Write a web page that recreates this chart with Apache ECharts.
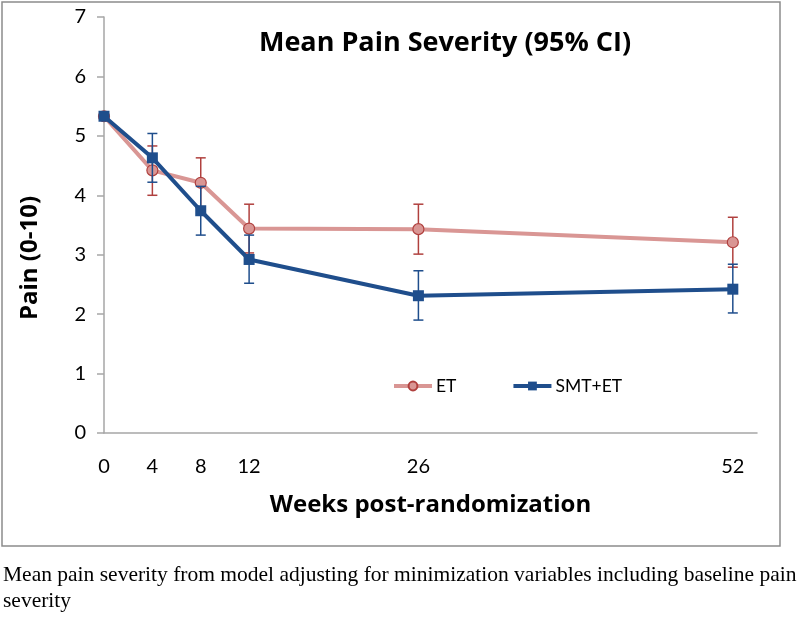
<!DOCTYPE html>
<html>
<head>
<meta charset="utf-8">
<script src="https://cdn.jsdelivr.net/npm/echarts@6/dist/echarts.min.js"></script>
<style>
html,body{margin:0;padding:0;background:#fff;}
#chart{width:800px;height:618px;}
</style>
</head>
<body>
<div id="chart"></div>
<script>
var weeks = [0, 4, 8, 12, 26, 52];
var xTickLabels = [0, 4, 8, 12, 26, 52];
var etMean = [5.33, 4.42, 4.21, 3.44, 3.43, 3.21];
var etLow = [null, 4.00, 3.79, 3.03, 3.01, 2.79];
var etHigh = [null, 4.83, 4.63, 3.85, 3.85, 3.63];
var smtMean = [5.33, 4.63, 3.74, 2.92, 2.31, 2.42];
var smtLow = [null, 4.22, 3.33, 2.52, 1.90, 2.02];
var smtHigh = [null, 5.04, 4.15, 3.33, 2.73, 2.84];

var FONT = 'Lato, "Open Sans", sans-serif';
var BOLD = '"Open Sans", Lato, sans-serif';
var ET_LINE = '#d99694';
var ET_DARK = '#b0403e';
var SMT = '#1f4e8c';

function pairs(xs, ys) { return xs.map(function (x, i) { return [x, ys[i]]; }); }
function errData(xs, lo, hi) {
  var out = [];
  xs.forEach(function (x, i) { if (lo[i] != null) out.push([x, lo[i], hi[i]]); });
  return out;
}
function errRender(color) {
  return function (params, api) {
    var x = api.value(0);
    var p1 = api.coord([x, api.value(1)]);
    var p2 = api.coord([x, api.value(2)]);
    var hw = 5;
    var st = { stroke: color, lineWidth: 1.5 };
    return {
      type: 'group',
      children: [
        { type: 'line', shape: { x1: p1[0], y1: p1[1], x2: p2[0], y2: p2[1] }, style: st },
        { type: 'line', shape: { x1: p1[0] - hw, y1: p1[1], x2: p1[0] + hw, y2: p1[1] }, style: st },
        { type: 'line', shape: { x1: p2[0] - hw, y1: p2[1], x2: p2[0] + hw, y2: p2[1] }, style: st }
      ]
    };
  };
}

var chart = echarts.init(document.getElementById('chart'), null, { renderer: 'canvas' });
chart.setOption({
  animation: false,
  backgroundColor: '#fff',
  title: {
    text: 'Mean Pain Severity (95% CI)',
    left: 440, top: 25, textAlign: 'center',
    textStyle: { fontFamily: BOLD, fontWeight: 'bold', fontSize: 27, color: '#000' }
  },
  legend: {
    left: 387, top: 372,
    itemWidth: 38, itemHeight: 11, itemGap: 55,
    data: ['ET', 'SMT+ET'],
    lineStyle: { width: 4 },
    textStyle: { fontFamily: FONT, fontSize: 17.5, color: '#000', padding: [0, 0, 0, -1] }
  },
  grid: { left: 104, top: 17, right: 43, bottom: 185 },
  xAxis: {
    type: 'value', min: 0, max: 54,
    name: 'Weeks post-randomization', nameLocation: 'middle', nameGap: 60,
    nameTextStyle: { fontFamily: BOLD, fontWeight: 'bold', fontSize: 24, color: '#000' },
    axisLine: { lineStyle: { color: '#a6a6a6', width: 1.5 } },
    axisTick: { show: false },
    splitLine: { show: false },
    axisLabel: { customValues: xTickLabels, fontFamily: FONT, fontSize: 20, color: '#000', margin: 24 }
  },
  yAxis: {
    type: 'value', min: 0, max: 7, interval: 1,
    axisLine: { show: true, lineStyle: { color: '#a6a6a6', width: 1.5 } },
    axisTick: { show: true, length: 7, lineStyle: { color: '#a6a6a6', width: 1.5 } },
    splitLine: { show: false },
    axisLabel: { fontFamily: FONT, fontSize: 20, color: '#000', margin: 18 }
  },
  series: [
    {
      name: 'ET-err', type: 'custom', renderItem: errRender(ET_DARK),
      data: errData(weeks, etLow, etHigh), encode: { x: 0, y: [1, 2] }, z: 2, silent: true
    },
    {
      name: 'ET', type: 'line', data: pairs(weeks, etMean),
      lineStyle: { color: ET_LINE, width: 4 },
      itemStyle: { color: ET_LINE, borderColor: ET_DARK, borderWidth: 1.2 },
      symbol: 'circle', symbolSize: 11, z: 3
    },
    {
      name: 'SMT-err', type: 'custom', renderItem: errRender(SMT),
      data: errData(weeks, smtLow, smtHigh), encode: { x: 0, y: [1, 2] }, z: 4, silent: true
    },
    {
      name: 'SMT+ET', type: 'line', data: pairs(weeks, smtMean),
      lineStyle: { color: SMT, width: 4 },
      itemStyle: { color: SMT, borderColor: SMT, borderWidth: 0 },
      symbol: 'rect', symbolSize: 11, z: 5
    }
  ],
  graphic: [
    { type: 'rect', shape: { x: 2, y: 2, width: 778, height: 544 }, style: { fill: 'none', stroke: '#8c8c8c', lineWidth: 1.5 }, z: -1 },
    { type: 'text', x: 30, y: 258, rotation: Math.PI / 2, style: { text: 'Pain (0-10)', font: 'bold 24px "Open Sans", Lato, sans-serif', fill: '#000', align: 'center', verticalAlign: 'middle' } },
    { type: 'text', left: 3, top: 564, style: { text: 'Mean pain severity from model adjusting for minimization variables including baseline pain', font: '21.5px "Liberation Serif", "Times New Roman", serif', fill: '#000' } },
    { type: 'text', left: 3, top: 590, style: { text: 'severity', font: '21.5px "Liberation Serif", "Times New Roman", serif', fill: '#000' } }
  ]
});
</script>
</body>
</html>
